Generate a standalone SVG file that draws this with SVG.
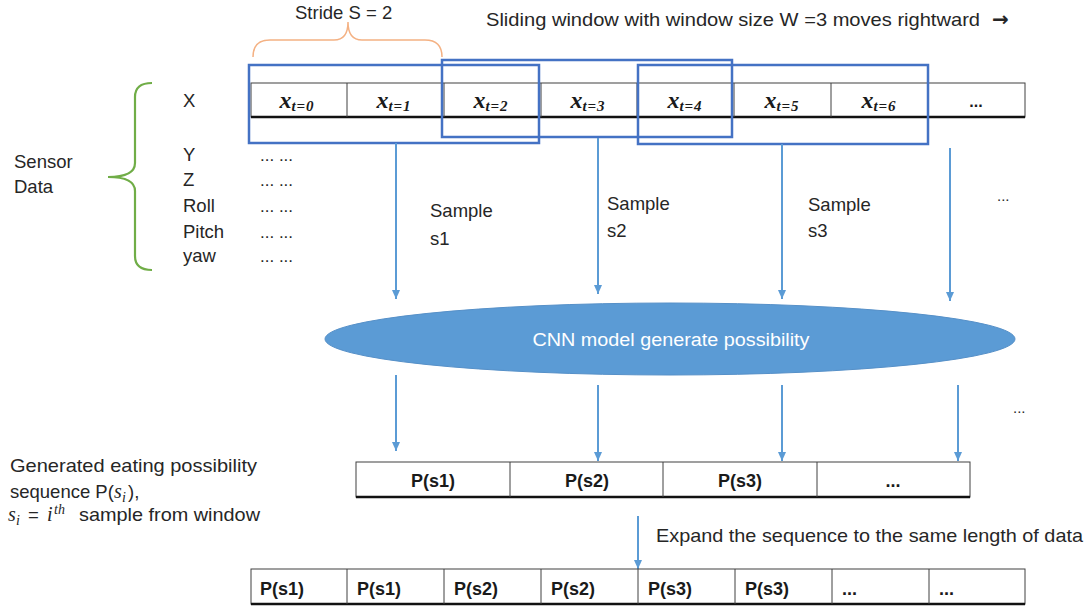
<svg xmlns="http://www.w3.org/2000/svg" width="1090" height="607" viewBox="0 0 1090 607">
<defs>
<style>
.t{font-family:"Liberation Sans",Arial,sans-serif;font-size:18.5px;fill:#262626}
.b{font-family:"Liberation Sans",Arial,sans-serif;font-size:18px;font-weight:bold;fill:#1a1a1a}
.m{font-family:"Liberation Serif","Times New Roman",serif;font-style:italic;font-weight:bold;fill:#1a1a1a}
.mi{font-family:"Liberation Serif","Times New Roman",serif;font-style:italic;fill:#262626}
.cell{fill:none;stroke:#404040;stroke-width:1}
.bot{stroke:#111;stroke-width:2.5}
.win{fill:none;stroke:#4472C4;stroke-width:2.5}
.arr{stroke:#5B9BD5;stroke-width:2;fill:none;marker-end:url(#ah)}
</style>
<marker id="ah" markerUnits="userSpaceOnUse" markerWidth="10" markerHeight="10" viewBox="0 0 10 10" refX="9" refY="5" orient="auto">
<path d="M0,1 L9,5 L0,9 Z" fill="#5B9BD5"/>
</marker>
</defs>
<rect width="1090" height="607" fill="#fff"/>

<g id="stride">
<path d="M253,57 Q253,40 270,40 L334,40 Q348,40 348,22 Q348,40 362,40 L425,40 Q442,40 442,57" fill="none" stroke="#F4B183" stroke-width="1.5"/>
<text class="t" x="295" y="18.5">Stride S = 2</text>
</g>
<g id="title">
<text class="t" x="486" y="26" textLength="494" lengthAdjust="spacingAndGlyphs">Sliding window with window size W =3 moves rightward</text>
<text x="992" y="26" font-family="DejaVu Sans, sans-serif" font-size="20" font-weight="bold" fill="#262626">→</text>
</g>

<g id="sensor">
<text class="t" x="14" y="168">Sensor</text>
<text class="t" x="14" y="193">Data</text>
<path d="M152,83 Q135,83 135,97 L135,163 Q135,177 108,177 Q135,177 135,191 L135,256 Q135,270 152,270" fill="none" stroke="#70AD47" stroke-width="2.2"/>
<text class="t" x="183" y="107">X</text>
<text class="t" x="183" y="161">Y</text>
<text class="t" x="183" y="186">Z</text>
<text class="t" x="183" y="212">Roll</text>
<text class="t" x="183" y="238">Pitch</text>
<text class="t" x="183" y="262">yaw</text>
<g class="t" style="font-size:17px">
<text x="260" y="161">... ...</text>
<text x="260" y="186">... ...</text>
<text x="260" y="212">... ...</text>
<text x="260" y="238">... ...</text>
<text x="260" y="262">... ...</text>
</g>
</g>

<g id="data-row">
<rect class="cell" x="251" y="83" width="774" height="34"/>
<line class="bot" x1="251" y1="117" x2="1025" y2="117"/>
<g stroke="#404040" stroke-width="1">
<line x1="347" y1="83" x2="347" y2="117"/><line x1="444" y1="83" x2="444" y2="117"/>
<line x1="541" y1="83" x2="541" y2="117"/><line x1="637" y1="83" x2="637" y2="117"/>
<line x1="734" y1="83" x2="734" y2="117"/><line x1="831" y1="83" x2="831" y2="117"/>
<line x1="928" y1="83" x2="928" y2="117"/>
</g>
<g class="m" text-anchor="middle">
<text x="297" y="108" font-size="24">x<tspan font-size="15" dy="3" letter-spacing="1">t=0</tspan></text>
<text x="394" y="108" font-size="24">x<tspan font-size="15" dy="3" letter-spacing="1">t=1</tspan></text>
<text x="491" y="108" font-size="24">x<tspan font-size="15" dy="3" letter-spacing="1">t=2</tspan></text>
<text x="588" y="108" font-size="24">x<tspan font-size="15" dy="3" letter-spacing="1">t=3</tspan></text>
<text x="685" y="108" font-size="24">x<tspan font-size="15" dy="3" letter-spacing="1">t=4</tspan></text>
<text x="782" y="108" font-size="24">x<tspan font-size="15" dy="3" letter-spacing="1">t=5</tspan></text>
<text x="879" y="108" font-size="24">x<tspan font-size="15" dy="3" letter-spacing="1">t=6</tspan></text>
</g>
<text class="b" x="976" y="107" text-anchor="middle" style="font-size:16px">...</text>
</g>

<g id="windows">
<rect id="w1" class="win" x="249" y="65" width="290" height="78"/>
<rect id="w2" class="win" x="442" y="60" width="290" height="77"/>
<rect id="w3" class="win" x="638" y="65" width="290" height="79"/>
</g>

<g id="sample-labels">
<text class="t" x="430" y="217">Sample</text>
<text class="t" x="430" y="245">s1</text>
<text class="t" x="607" y="210">Sample</text>
<text class="t" x="607" y="237">s2</text>
<text class="t" x="808" y="211">Sample</text>
<text class="t" x="808" y="237">s3</text>
<text class="t" x="997" y="201" style="font-size:15px">...</text>
<text class="t" x="1013" y="413" style="font-size:15px">...</text>
</g>

<g id="cnn">
<ellipse cx="670" cy="339" rx="345" ry="36" fill="#5B9BD5" stroke="#5690C8" stroke-width="1"/>
<text x="671" y="346" text-anchor="middle" font-family="Liberation Sans, Arial, sans-serif" font-size="18" fill="#fff" textLength="277" lengthAdjust="spacingAndGlyphs">CNN model generate possibility</text>
</g>

<g id="connectors">
<line class="arr" x1="396" y1="143" x2="396" y2="299"/>
<line class="arr" x1="598" y1="138" x2="598" y2="294"/>
<line class="arr" x1="782" y1="144" x2="782" y2="299"/>
<line class="arr" x1="950" y1="148" x2="950" y2="301"/>
<line class="arr" x1="396" y1="375" x2="396" y2="451"/>
<line class="arr" x1="598" y1="385" x2="598" y2="461"/>
<line class="arr" x1="782" y1="385" x2="782" y2="461"/>
<line class="arr" x1="958" y1="385" x2="958" y2="461"/>
<line class="arr" x1="638" y1="516" x2="638" y2="569"/>
</g>

<g id="prob-row">
<rect class="cell" x="356" y="462" width="614" height="35"/>
<line class="bot" x1="356" y1="497" x2="970" y2="497"/>
<g stroke="#404040" stroke-width="1">
<line x1="510" y1="462" x2="510" y2="497"/><line x1="663" y1="462" x2="663" y2="497"/><line x1="817" y1="462" x2="817" y2="497"/>
</g>
<g class="b" text-anchor="middle">
<text x="433" y="487">P(s1)</text>
<text x="587" y="487">P(s2)</text>
<text x="740" y="487">P(s3)</text>
<text x="893" y="487">...</text>
</g>
</g>

<g id="prob-label">
<text class="t" x="10" y="472" textLength="247" lengthAdjust="spacingAndGlyphs">Generated eating possibility</text>
<text class="t" x="10" y="498">sequence P(</text>
<text class="mi" x="114" y="498" font-size="20">s</text>
<text class="mi" x="122" y="502" font-size="14">i</text>
<text class="t" x="128" y="498">),</text>
<text class="mi" x="8" y="521" font-size="20">s</text>
<text class="mi" x="16" y="525" font-size="14">i</text>
<text class="t" x="28" y="521">=</text>
<text class="mi" x="47" y="521" font-size="20">i</text>
<text class="mi" x="54" y="514" font-size="14">th</text>
<text class="t" x="79" y="521" textLength="181" lengthAdjust="spacingAndGlyphs">sample from window</text>
</g>

<g id="expand-label">
<text class="t" x="656" y="542" textLength="427" lengthAdjust="spacingAndGlyphs">Expand the sequence to the same length of data</text>
</g>

<g id="expanded-row">
<rect class="cell" x="251" y="569" width="774" height="35"/>
<line class="bot" x1="251" y1="604" x2="1025" y2="604"/>
<g stroke="#404040" stroke-width="1">
<line x1="347" y1="569" x2="347" y2="604"/><line x1="444" y1="569" x2="444" y2="604"/>
<line x1="541" y1="569" x2="541" y2="604"/><line x1="638" y1="569" x2="638" y2="604"/>
<line x1="735" y1="569" x2="735" y2="604"/><line x1="832" y1="569" x2="832" y2="604"/>
<line x1="929" y1="569" x2="929" y2="604"/>
</g>
<g class="b">
<text x="260" y="595">P(s1)</text>
<text x="357" y="595">P(s1)</text>
<text x="454" y="595">P(s2)</text>
<text x="551" y="595">P(s2)</text>
<text x="648" y="595">P(s3)</text>
<text x="745" y="595">P(s3)</text>
<text x="842" y="595">...</text>
<text x="939" y="595">...</text>
</g>
</g>
</svg>
